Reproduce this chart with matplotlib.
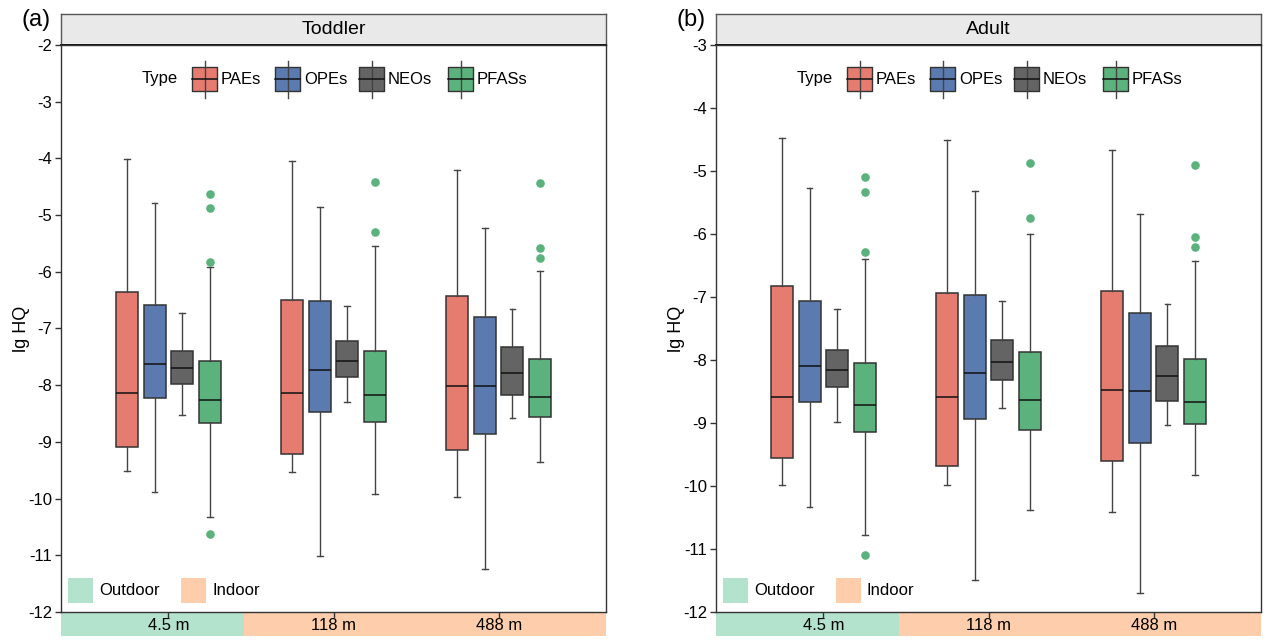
import matplotlib
matplotlib.use("Agg")
import matplotlib.pyplot as plt
from matplotlib.patches import Rectangle
from matplotlib.lines import Line2D

plt.rcParams['font.family'] = ['Liberation Sans', 'DejaVu Sans']
plt.rcParams['axes.unicode_minus'] = False

# ---------------- data ----------------
groups = ["4.5 m", "118 m", "488 m"]
types = ["PAEs", "OPEs", "NEOs", "PFASs"]
colors = ["#E67B70", "#5B7AB0", "#646464", "#5BB27C"]
site_labels = ["Outdoor", "Indoor"]
site_colors = ["#B3E2CD", "#FDCDAC"]

# five-number summaries per group: [whislo, q1, median, q3, whishi]
toddler_paes = [[-9.52, -9.09, -8.13, -6.36, -4.01],
                [-9.53, -9.21, -8.13, -6.49, -4.05],
                [-9.97, -9.15, -8.01, -6.43, -4.21]]
toddler_opes = [[-9.88, -8.22, -7.62, -6.59, -4.79],
                [-11.02, -8.48, -7.74, -6.52, -4.86],
                [-11.24, -8.86, -8.02, -6.79, -5.23]]
toddler_neos = [[-8.53, -7.98, -7.70, -7.39, -6.72],
                [-8.30, -7.86, -7.57, -7.22, -6.60],
                [-8.57, -8.18, -7.79, -7.32, -6.66]]
toddler_pfass = [[-10.33, -8.67, -8.26, -7.57, -5.92],
                 [-9.92, -8.65, -8.17, -7.40, -5.54],
                 [-9.36, -8.56, -8.20, -7.53, -5.98]]
toddler_pfass_fliers = [[-4.62, -4.87, -5.82, -10.63],
                        [-4.42, -5.29],
                        [-4.44, -5.58, -5.75]]

adult_paes = [[-9.98, -9.56, -8.59, -6.82, -4.47],
              [-9.99, -9.68, -8.59, -6.94, -4.51],
              [-10.42, -9.61, -8.48, -6.90, -4.66]]
adult_opes = [[-10.34, -8.67, -8.09, -7.06, -5.27],
              [-11.49, -8.94, -8.21, -6.97, -5.32],
              [-11.70, -9.31, -8.49, -7.25, -5.69]]
adult_neos = [[-8.99, -8.43, -8.16, -7.84, -7.19],
              [-8.76, -8.32, -8.03, -7.69, -7.07],
              [-9.03, -8.65, -8.25, -7.78, -7.11]]
adult_pfass = [[-10.78, -9.14, -8.72, -8.04, -6.39],
               [-10.38, -9.11, -8.63, -7.87, -6.00],
               [-9.82, -9.02, -8.67, -7.99, -6.43]]
adult_pfass_fliers = [[-5.09, -5.33, -6.29, -11.10],
                      [-4.88, -5.75],
                      [-4.90, -6.04, -6.21]]

toddler_ylim = (-12, -2)
adult_ylim = (-12, -3)

# ---------------- figure ----------------
W, H = 1271, 640
fig = plt.figure(figsize=(W / 100, H / 100), dpi=100)

AX_W, AX_H = 545, 567
FS = 12


def make_stats(series, fliers=None):
    out = []
    for i, s in enumerate(series):
        out.append(dict(whislo=s[0], q1=s[1], med=s[2], q3=s[3], whishi=s[4],
                        fliers=(fliers[i] if fliers is not None else [])))
    return out


def draw_panel(left_px, title, tag, tag_x, ylim, data, pf_fliers):
    left = left_px / W
    ax = fig.add_axes([left, (H - 612) / H, AX_W / W, AX_H / H])
    ax.set_zorder(3)
    offsets = [-1.5, -0.5, 0.5, 1.5]
    step = 0.167
    bw = 0.133
    for k, (series, col) in enumerate(zip(data, colors)):
        stats = make_stats(series, pf_fliers if k == 3 else None)
        pos = [g + 1 + offsets[k] * step for g in range(len(groups))]
        ax.bxp(stats, positions=pos, widths=bw, patch_artist=True,
               showfliers=True, manage_ticks=False,
               boxprops=dict(facecolor=col, edgecolor="#333333", linewidth=1.1),
               medianprops=dict(color="#111111", linewidth=1.1),
               whiskerprops=dict(color="#444444", linewidth=1.0),
               capprops=dict(color="#444444", linewidth=1.0),
               capwidths=0.035,
               flierprops=dict(marker="o", markersize=6.2, markerfacecolor=col,
                               markeredgecolor="none", linestyle="none"))
    ax.set_xlim(0.35, 3.65)
    ax.set_ylim(*ylim)
    ax.set_yticks(range(ylim[0], ylim[1] + 1))
    ax.set_yticklabels([str(v) for v in range(ylim[0], ylim[1] + 1)], fontsize=FS)
    ax.set_xticks([1, 2, 3])
    ax.set_xticklabels([])
    ax.tick_params(axis="both", length=4, width=1, color="#333333", pad=2.5)
    for sp in ax.spines.values():
        sp.set_color("#333333")
        sp.set_linewidth(1.0)
    ax.set_ylabel("lg HQ", fontsize=13)
    ax.yaxis.set_label_coords(-0.057, 0.5)

    # top legend (Type)
    tr = ax.transAxes
    ytop = 1 - 22 / AX_H
    ybot = 1 - 46 / AX_H
    ymid = 1 - 34 / AX_H
    ax.text(117 / AX_W, ymid, "Type", transform=tr, ha="right", va="center",
            fontsize=FS)
    box_x = [131, 214, 298, 387]
    for bx, col, lab in zip(box_x, colors, types):
        x0 = bx / AX_W
        bwid = 25 / AX_W
        xc = x0 + bwid / 2
        ax.add_line(Line2D([xc, xc], [1 - 16 / AX_H, 1 - 53 / AX_H], transform=tr,
                           color="#444444", lw=1.0, clip_on=False))
        ax.add_patch(Rectangle((x0, ybot), bwid, ytop - ybot, transform=tr,
                               facecolor=col, edgecolor="#333333", lw=1.0,
                               joinstyle="round", clip_on=False))
        ax.add_line(Line2D([x0, x0 + bwid], [ymid, ymid], transform=tr,
                           color="#111111", lw=1.1, clip_on=False))
        ax.text(x0 + bwid + 4 / AX_W, ymid, lab, transform=tr, ha="left",
                va="center", fontsize=FS)

    # bottom legend (site)
    sq_x = [7, 120]
    for sx, col, lab in zip(sq_x, site_colors, site_labels):
        ax.add_patch(Rectangle((sx / AX_W, 9 / AX_H), 25 / AX_W, 25 / AX_H,
                               transform=tr, facecolor=col, edgecolor="none"))
        ax.text((sx + 31) / AX_W, 21.5 / AX_H, lab, transform=tr, ha="left",
                va="center", fontsize=FS)

    # header strip
    hx = fig.add_axes([left, (H - 45) / H, AX_W / W, 31 / H])
    hx.set_facecolor("#E9E9E9")
    hx.set_xticks([])
    hx.set_yticks([])
    for sp in hx.spines.values():
        sp.set_color("#555555")
        sp.set_linewidth(1.0)
    hx.spines["bottom"].set_color("#111111")
    hx.spines["bottom"].set_linewidth(1.4)
    hx.text(0.5, 0.5, title, transform=hx.transAxes, ha="center", va="center",
            fontsize=14)

    # bottom strip
    sx_ax = fig.add_axes([left, (H - 636) / H, AX_W / W, 24 / H])
    sx_ax.set_zorder(1)
    sx_ax.set_xlim(0.35, 3.65)
    sx_ax.set_ylim(0, 1)
    sx_ax.axvspan(0.35, 1.46, color=site_colors[0], lw=0)
    sx_ax.axvspan(1.46, 3.65, color=site_colors[1], lw=0)
    for i, g in enumerate(groups):
        sx_ax.text(i + 1, 0.45, g, ha="center", va="center", fontsize=FS)
    sx_ax.axis("off")

    fig.text(tag_x / W, 1 - 20 / H, tag, ha="center", va="center", fontsize=17)
    return ax


draw_panel(61, "Toddler", "(a)", 36, toddler_ylim,
           [toddler_paes, toddler_opes, toddler_neos, toddler_pfass],
           toddler_pfass_fliers)
draw_panel(716, "Adult", "(b)", 691, adult_ylim,
           [adult_paes, adult_opes, adult_neos, adult_pfass],
           adult_pfass_fliers)

fig.savefig("out.png", dpi=100)
